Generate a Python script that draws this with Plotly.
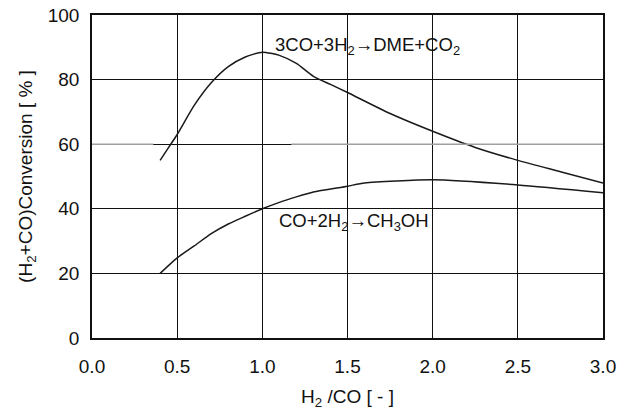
import plotly.graph_objects as go

# Data
h2_co_dme = [0.4, 0.45, 0.5, 0.6, 0.7, 0.8, 0.9, 1.0, 1.1, 1.2, 1.3, 1.4, 1.5, 1.75, 2.0, 2.25, 2.5, 2.75, 3.0]
conv_dme = [55, 59, 63, 72, 79, 84, 87, 88.5, 87.5, 85, 81, 78.5, 76, 69.5, 64, 59, 55, 51.5, 48]

h2_co_meoh = [0.4, 0.5, 0.6, 0.7, 0.8, 0.9, 1.0, 1.1, 1.2, 1.3, 1.5, 1.6, 2.0, 2.5, 3.0]
conv_meoh = [20, 24.8, 28.5, 32.3, 35.3, 37.7, 40, 42, 43.7, 45.2, 47, 48, 49, 47.4, 45]

x_ticks = [0.0, 0.5, 1.0, 1.5, 2.0, 2.5, 3.0]
x_tick_labels = ["0.0", "0.5", "1.0", "1.5", "2.0", "2.5", "3.0"]
y_ticks = [0, 20, 40, 60, 80, 100]

label_dme = "3CO+3H<sub>2</sub>→DME+CO<sub>2</sub>"
label_meoh = "CO+2H<sub>2</sub>→CH<sub>3</sub>OH"

font = "Liberation Sans, Arial, sans-serif"

fig = go.Figure()
fig.add_trace(go.Scatter(x=h2_co_dme, y=conv_dme, mode="lines",
                         line=dict(color="#1a1a1a", width=1.5, shape="spline", smoothing=0.6),
                         showlegend=False))
fig.add_trace(go.Scatter(x=h2_co_meoh, y=conv_meoh, mode="lines",
                         line=dict(color="#1a1a1a", width=1.5, shape="spline", smoothing=0.6),
                         showlegend=False))

fig.add_annotation(x=1.62, y=90.5, text=label_dme, showarrow=False,
                   font=dict(family=font, size=18.5, color="#111"))
fig.add_annotation(x=1.54, y=36, text=label_meoh, showarrow=False,
                   font=dict(family=font, size=18.5, color="#111"))

# lighter (gray) segments of the 60% gridline as in the scanned reference
fig.add_shape(type="line", xref="paper", yref="y", x0=0.39, x1=1, y0=60, y1=60,
              line=dict(color="#a0a0a0", width=1.5), layer="above")
fig.add_shape(type="line", xref="paper", yref="y", x0=0, x1=0.12, y0=60, y1=60,
              line=dict(color="#a0a0a0", width=1.5), layer="above")

fig.update_layout(
    width=632, height=412,
    margin=dict(l=92, r=29, t=15, b=74),
    paper_bgcolor="white", plot_bgcolor="white",
    font=dict(family=font, size=19, color="#111"),
)
fig.update_xaxes(range=[0, 3], tickvals=x_ticks, ticktext=x_tick_labels,
                 showgrid=True, gridcolor="#111", gridwidth=1,
                 showline=True, linecolor="#111", linewidth=1.5, mirror=True,
                 ticks="", ticklabelstandoff=10, zeroline=False, automargin=False,
                 ticklabeloverflow="allow",
                 tickfont=dict(size=19),
                 title=dict(text="H<sub>2</sub> /CO [ - ]", standoff=14,
                            font=dict(size=19)))
fig.update_yaxes(range=[0, 100], tickvals=y_ticks,
                 showgrid=True, gridcolor="#111", gridwidth=1,
                 showline=True, linecolor="#111", linewidth=1.5, mirror=True,
                 ticks="", ticklabelstandoff=7, zeroline=False, automargin=False,
                 ticklabeloverflow="allow",
                 tickfont=dict(size=19),
                 title=dict(text="(H<sub>2</sub>+CO)Conversion [ % ]", standoff=10,
                            font=dict(size=19)))

# remove the browser's default body margin so the figure fills the window exactly
fig.write_html("out.html", config={"displayModeBar": False},
               post_script="document.body.style.margin='0';")
